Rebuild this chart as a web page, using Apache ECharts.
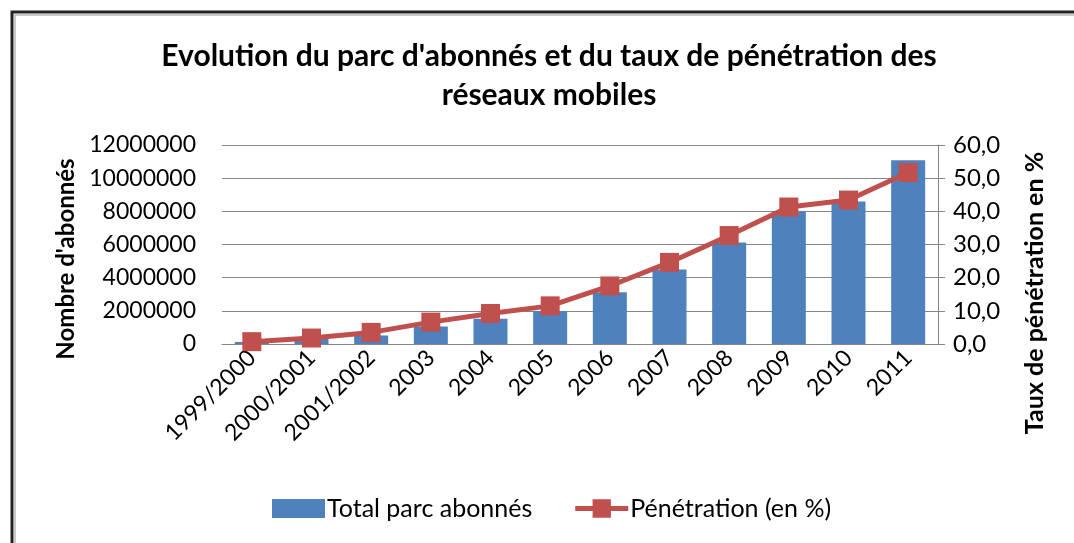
<!DOCTYPE html>
<html>
<head>
<meta charset="utf-8">
<script src="https://cdn.jsdelivr.net/npm/echarts@6/dist/echarts.min.js"></script>
<style>
  html, body { margin: 0; padding: 0; background: #fff; }
  #chart { width: 1074px; height: 543px; }
</style>
</head>
<body>
<div id="chart"></div>
<script>
// catégories (années)
const categories = ['1999/2000', '2000/2001', '2001/2002', '2003', '2004', '2005',
  '2006', '2007', '2008', '2009', '2010', '2011'];
// total parc abonnés
const abonnes = [120000, 380000, 520000, 1060000, 1520000, 1990000,
  3120000, 4500000, 6120000, 8000000, 8600000, 11080000];
// taux de pénétration (%)
const penetration = [0.7, 1.8, 3.5, 6.6, 9.2, 11.5, 17.5, 24.6, 32.7, 41.3, 43.4, 51.7];

const FONT = 'Lato';
const chart = echarts.init(document.getElementById('chart'));

// icône de légende : trait épais + carré au milieu
const lineIcon = 'path://M0,7H18V0H37V7H55V12H37V19H18V12H0Z';

const option = {
  backgroundColor: '#fff',
  animation: false,
  textStyle: { fontFamily: FONT, color: '#000' },
  title: {
    text: "Evolution du parc d'abonnés et du taux de pénétration des\nréseaux mobiles",
    left: 544, // centre du titre (textAlign center)
    textAlign: 'center',
    top: 32,
    textStyle: { fontFamily: FONT, fontSize: 30, fontWeight: 'bold', color: '#000', lineHeight: 39 }
  },
  grid: { left: 222, right: 136, top: 145, bottom: 199 },
  legend: {
    bottom: 17,
    left: 267,
    itemGap: 43,
    itemWidth: 53,
    itemHeight: 19,
    textStyle: { fontFamily: FONT, fontSize: 25, color: '#000', padding: [0, 0, 0, -3] },
    data: [
      { name: 'Total parc abonnés', icon: 'rect' },
      { name: 'Pénétration (en %)', icon: lineIcon, itemStyle: { borderWidth: 0 } }
    ]
  },
  xAxis: {
    type: 'category',
    data: categories,
    axisLine: { lineStyle: { color: '#868686' } },
    axisTick: { show: false },
    axisLabel: { rotate: 45, fontSize: 23, color: '#000', margin: 10, fontFamily: FONT }
  },
  yAxis: [
    {
      type: 'value',
      min: 0, max: 12000000, interval: 2000000,
      axisLine: { show: false },
      axisTick: { show: false },
      splitLine: { lineStyle: { color: '#868686', width: 1 } },
      axisLabel: { fontSize: 23, color: '#000', margin: 26, fontFamily: FONT, formatter: v => String(v) }
    },
    {
      type: 'value',
      min: 0, max: 60, interval: 10,
      position: 'right',
      axisLine: { show: true, lineStyle: { color: '#868686' } },
      axisTick: { show: true, length: 7, lineStyle: { color: '#868686' } },
      splitLine: { show: false },
      axisLabel: {
        fontSize: 24, color: '#000', margin: 15, fontFamily: FONT,
        formatter: v => v.toFixed(1).replace('.', ',')
      }
    }
  ],
  series: [
    {
      name: 'Total parc abonnés',
      type: 'bar',
      data: abonnes,
      barWidth: 34,
      itemStyle: { color: '#4F81BD' }
    },
    {
      name: 'Pénétration (en %)',
      type: 'line',
      yAxisIndex: 1,
      data: penetration,
      symbol: 'rect',
      symbolSize: 19,
      lineStyle: { color: '#C0504D', width: 5 },
      itemStyle: { color: '#C0504D' }
    }
  ],
  graphic: [
    // cadre
    {
      type: 'rect',
      shape: { x: 12, y: 12, width: 1080, height: 560 },
      style: { fill: null, stroke: '#222', lineWidth: 3 },
      silent: true
    },
    {
      type: 'rect',
      shape: { x: 15, y: 15, width: 1080, height: 560 },
      style: { fill: null, stroke: '#bbb', lineWidth: 1.5 },
      silent: true
    },
    {
      type: 'text',
      x: 66, y: 259,
      rotation: Math.PI / 2,
      style: {
        text: "Nombre d'abonnés", font: 'bold 24px ' + FONT,
        fill: '#000', align: 'center', verticalAlign: 'middle'
      }
    },
    {
      type: 'text',
      x: 1035, y: 293,
      rotation: Math.PI / 2,
      style: {
        text: 'Taux de pénétration en %', font: 'bold 25px ' + FONT,
        fill: '#000', align: 'center', verticalAlign: 'middle'
      }
    }
  ]
};

chart.setOption(option);
</script>
</body>
</html>
